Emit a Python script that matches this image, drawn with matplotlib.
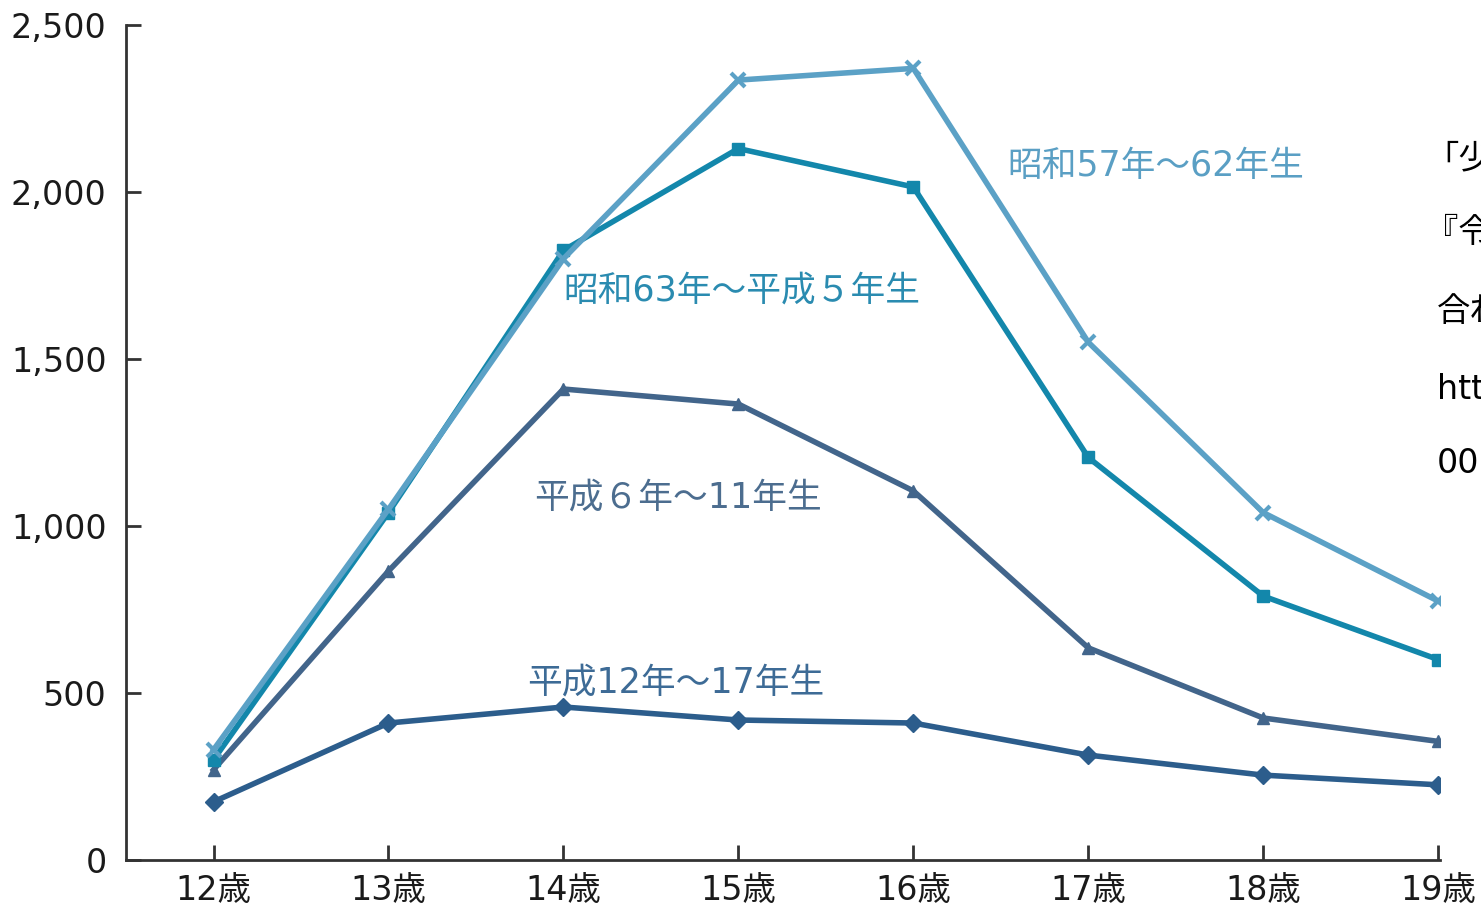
import matplotlib.pyplot as plt

plt.rcParams["font.family"] = ["DejaVu Sans", "Noto Sans CJK JP"]

ages = [12, 13, 14, 15, 16, 17, 18, 19]
age_labels = ["12歳", "13歳", "14歳", "15歳", "16歳", "17歳", "18歳", "19歳"]

s57_62 = [330, 1050, 1800, 2335, 2370, 1550, 1040, 775]
s63_h5 = [300, 1040, 1825, 2130, 2015, 1205, 790, 600]
h6_11 = [270, 865, 1410, 1365, 1105, 635, 425, 355]
h12_17 = [174, 410, 458, 419, 410, 314, 254, 225]

series_names = ["昭和57年〜62年生", "昭和63年〜平成５年生", "平成６年〜11年生", "平成12年〜17年生"]

note_lines = ["「少年による刑法犯」", "『令和5年版犯罪白書』", "合わせて作成", "https://www.moj.go.jp/", "001410095.pdf"]

fig = plt.figure(figsize=(14.81, 9.08), dpi=100)
ax = fig.add_axes([0.0851, 0.0529, 0.8872, 0.9196])

ax.plot(ages, h12_17, color="#2c5d8c", lw=4, marker="D", ms=9)
ax.plot(ages, h6_11, color="#42658b", lw=4, marker="^", ms=9)
ax.plot(ages, s63_h5, color="#1387ab", lw=4, marker="s", ms=8)
ax.plot(ages, s57_62, color="#5ba1c6", lw=4, marker="x", ms=10, mew=3)

ax.set_xlim(11.5, 19.01)
ax.set_ylim(0, 2500)
ax.set_xticks(ages)
ax.set_xticklabels(age_labels)
ax.set_yticks([0, 500, 1000, 1500, 2000, 2500])
ax.set_yticklabels(["0", "500", "1,000", "1,500", "2,000", "2,500"])

for side in ["top", "right"]:
    ax.spines[side].set_visible(False)
for side in ["left", "bottom"]:
    ax.spines[side].set_color("#333333")
    ax.spines[side].set_linewidth(2)

ax.tick_params(direction="in", length=11, width=2, color="#333333",
               labelsize=24, labelcolor="#1a1a1a")
ax.tick_params(axis="y", pad=14)
ax.tick_params(axis="x", pad=10)

# series labels
ax.text(16.54, 2078, series_names[0], color="#5a9fc4", fontsize=25, va="center")
ax.text(14.0, 1704, series_names[1], color="#2a8bb0", fontsize=25, va="center")
ax.text(13.83, 1084, series_names[2], color="#4c6d8f", fontsize=25, va="center")
ax.text(13.79, 530, series_names[3], color="#3d6b96", fontsize=25, va="center")

# cut-off note on the right edge
note_y = [0.824, 0.744, 0.657, 0.571, 0.489]
note_x = [0.9625, 0.9625, 0.9703, 0.9703, 0.9703]
for line, x, y in zip(note_lines, note_x, note_y):
    fig.text(x, y, line, fontsize=24, color="black", va="center")

fig.savefig("out.png", dpi=100)
